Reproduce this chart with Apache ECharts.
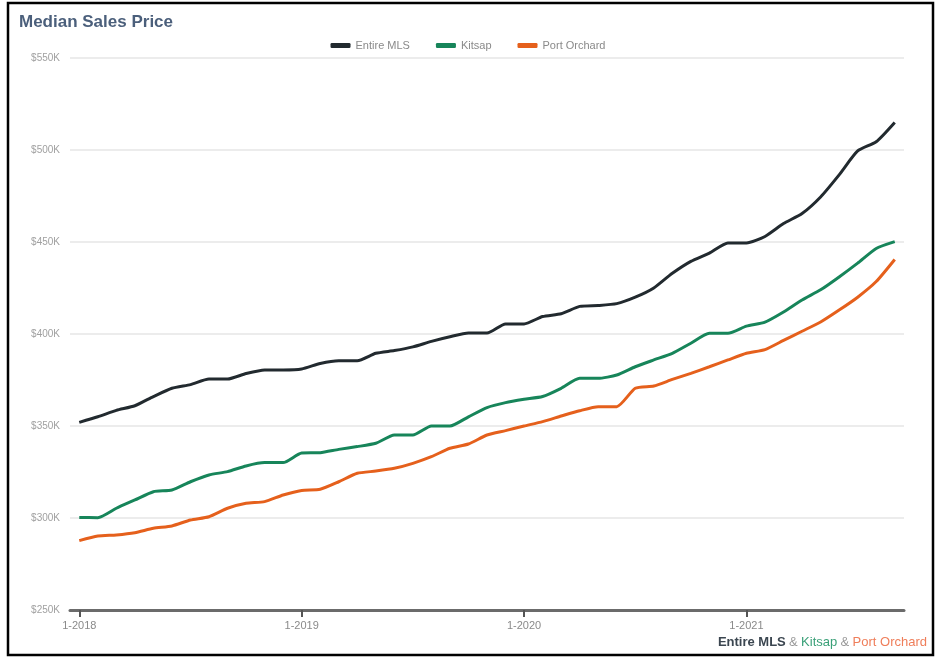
<!DOCTYPE html>
<html>
<head>
<meta charset="utf-8">
<script src="https://cdn.jsdelivr.net/npm/echarts@6/dist/echarts.min.js"></script>
<style>
  html, body { margin: 0; padding: 0; background: #fff; }
  #main { width: 936px; height: 657px; }
</style>
</head>
<body>
<div id="main"></div>
<script>
// months Jan 2018 .. Sep 2021
var months = [];
for (var y = 2018; y <= 2021; y++) {
    for (var m = 1; m <= 12; m++) {
        if (y === 2021 && m > 9) break;
        months.push(m + '-' + y);
    }
}

// median sales price, $K
var entireMLS = [352, 355, 358.5, 361, 366, 370.5, 372.5, 375.5, 375.5, 378.5, 380.5, 380.5, 381,
    384, 385.5, 385.5, 389.5, 391, 393, 396, 398.5, 400.5, 400.5, 405.5, 405.5,
    409.5, 411, 415, 415.5, 416.5, 420, 425, 433, 439.5, 444, 449.5, 449.5,
    453, 460, 465.5, 474.5, 486.5, 499.5, 504.5, 515];
var kitsap = [300.3, 300.2, 305.3, 309.8, 314.3, 315.2, 319.7, 323.4, 325.2, 328.3, 330.1, 330.1, 335.3,
    335.5, 337.3, 338.8, 340.6, 345.1, 345.1, 350, 350, 355, 360, 362.7, 364.5,
    366, 370.5, 375.9, 375.9, 377.7, 382.2, 385.9, 389.5, 395, 400.4, 400.4, 404.3,
    406.5, 412, 418.5, 424, 431, 438.5, 446.5, 450.2];
var portOrchard = [287.7, 290.2, 290.8, 292, 294.4, 295.7, 298.9, 300.7, 305.3, 308, 308.9, 312.5, 315,
    315.6, 319.7, 324.3, 325.5, 327, 329.7, 333.3, 337.9, 340.2, 345.1, 347.5, 350,
    352.4, 355.4, 358.3, 360.5, 360.5, 370.5, 371.7, 375.3, 378.6, 382.2, 385.9, 389.5,
    391.5, 396.5, 401.5, 406.5, 413, 420, 428.5, 440.5];

var names = ['Entire MLS', 'Kitsap', 'Port Orchard'];
var colors = ['#222a2f', '#17855a', '#e5601c'];

var chart = echarts.init(document.getElementById('main'));

function isJan(i, v) {
    return v.indexOf('1-') === 0;
}

function lineSeries(name, data, color) {
    return {
        name: name,
        type: 'line',
        data: data.map(function (v) { return v * 1000; }),
        symbol: 'none',
        smooth: 0.2,
        lineStyle: { color: color, width: 3 },
        itemStyle: { color: color }
    };
}

var option = {
    animation: false,
    backgroundColor: '#fff',
    title: {
        text: 'Median Sales Price',
        left: 14,
        top: 9,
        textStyle: { color: '#4b5f7b', fontSize: 17, fontWeight: 'bold', fontFamily: 'Arial' }
    },
    legend: {
        data: names,
        top: 35,
        left: 'center',
        itemWidth: 20,
        itemHeight: 5,
        itemGap: 26,
        icon: 'roundRect',
        textStyle: { color: '#8a8a8a', fontSize: 11, fontFamily: 'Arial' }
    },
    grid: { left: 70, right: 32, top: 58, bottom: 47 },
    xAxis: {
        type: 'category',
        data: months,
        boundaryGap: true,
        z: 5,
        axisLine: { lineStyle: { color: '#6b6b6b', width: 3 } },
        axisTick: {
            show: true,
            alignWithLabel: true,
            length: 7,
            lineStyle: { color: '#555', width: 2 },
            interval: isJan
        },
        axisLabel: {
            color: '#8a8a8a',
            fontSize: 11,
            fontFamily: 'Arial',
            margin: 10,
            interval: isJan
        },
        splitLine: { show: false }
    },
    yAxis: {
        type: 'value',
        min: 250000,
        max: 550000,
        interval: 50000,
        axisLine: { show: false },
        axisTick: { show: false },
        axisLabel: {
            color: '#a0a0a0',
            fontSize: 10,
            fontFamily: 'Arial',
            margin: 10,
            formatter: function (v) { return '$' + (v / 1000) + 'K'; }
        },
        splitLine: { lineStyle: { color: '#e6e6e6', width: 1.5 } }
    },
    series: [
        lineSeries(names[0], entireMLS, colors[0]),
        lineSeries(names[1], kitsap, colors[1]),
        lineSeries(names[2], portOrchard, colors[2])
    ],
    graphic: [
        {
            type: 'rect',
            shape: { x: 8, y: 3, width: 925, height: 652 },
            style: { fill: 'none', stroke: '#000', lineWidth: 2.5 },
            silent: true
        },
        {
            type: 'text',
            right: 9,
            top: 636,
            style: {
                text: '{a|Entire MLS} {s|&} {b|Kitsap} {s|&} {c|Port Orchard}',
                rich: {
                    a: { fill: '#3b4650', fontSize: 13, fontWeight: 'bold', fontFamily: 'Arial' },
                    s: { fill: '#999', fontSize: 13, fontFamily: 'Arial' },
                    b: { fill: '#3aa078', fontSize: 13, fontFamily: 'Arial' },
                    c: { fill: '#ef7e5a', fontSize: 13, fontFamily: 'Arial' }
                }
            }
        }
    ]
};

chart.setOption(option);
</script>
</body>
</html>
